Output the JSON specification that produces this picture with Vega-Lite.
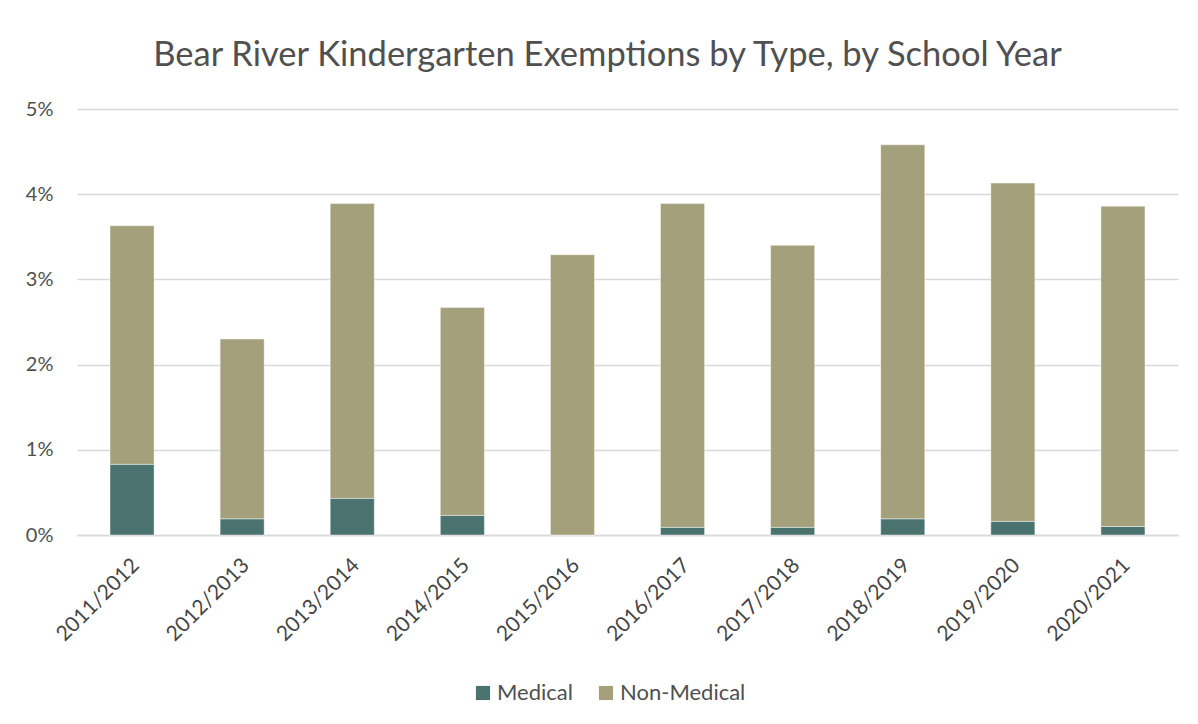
{
  "$schema": "https://vega.github.io/schema/vega-lite/v6.json",
  "autosize": "none",
  "width": 1101,
  "height": 426,
  "padding": {"left": 77, "top": 109, "right": 20, "bottom": 189},
  "background": "white",
  "title": {
    "text": "Bear River Kindergarten Exemptions by Type, by School Year",
    "font": "Lato",
    "fontSize": 34.5,
    "fontWeight": "normal",
    "color": "#505050",
    "anchor": "middle",
    "dx": -20,
    "offset": 26
  },
  "data": {
    "values": [
      {"year": "2011/2012", "type": "Medical", "order": 1, "value": 0.0083},
      {"year": "2011/2012", "type": "Non-Medical", "order": 2, "value": 0.0280},
      {"year": "2012/2013", "type": "Medical", "order": 1, "value": 0.0019},
      {"year": "2012/2013", "type": "Non-Medical", "order": 2, "value": 0.0211},
      {"year": "2013/2014", "type": "Medical", "order": 1, "value": 0.0043},
      {"year": "2013/2014", "type": "Non-Medical", "order": 2, "value": 0.0346},
      {"year": "2014/2015", "type": "Medical", "order": 1, "value": 0.0023},
      {"year": "2014/2015", "type": "Non-Medical", "order": 2, "value": 0.0244},
      {"year": "2015/2016", "type": "Medical", "order": 1, "value": 0.0},
      {"year": "2015/2016", "type": "Non-Medical", "order": 2, "value": 0.0329},
      {"year": "2016/2017", "type": "Medical", "order": 1, "value": 0.0009},
      {"year": "2016/2017", "type": "Non-Medical", "order": 2, "value": 0.0380},
      {"year": "2017/2018", "type": "Medical", "order": 1, "value": 0.0009},
      {"year": "2017/2018", "type": "Non-Medical", "order": 2, "value": 0.0331},
      {"year": "2018/2019", "type": "Medical", "order": 1, "value": 0.0019},
      {"year": "2018/2019", "type": "Non-Medical", "order": 2, "value": 0.0439},
      {"year": "2019/2020", "type": "Medical", "order": 1, "value": 0.0016},
      {"year": "2019/2020", "type": "Non-Medical", "order": 2, "value": 0.0397},
      {"year": "2020/2021", "type": "Medical", "order": 1, "value": 0.0010},
      {"year": "2020/2021", "type": "Non-Medical", "order": 2, "value": 0.0376}
    ]
  },
  "mark": {"type": "bar", "stroke": "#ffffff", "strokeWidth": 0.6, "strokeOpacity": 0.7},
  "encoding": {
    "x": {
      "field": "year",
      "type": "nominal",
      "sort": null,
      "title": null,
      "scale": {"paddingInner": 0.6, "paddingOuter": 0.3},
      "axis": {
        "labelAngle": -45,
        "labelAlign": "right",
        "labelBaseline": "middle",
        "labelFont": "Lato",
        "labelFontSize": 21,
        "labelColor": "#454545",
        "labelPadding": 27,
        "labelOffset": 4,
        "ticks": false,
        "domain": true,
        "domainColor": "#d9d9d9",
        "domainWidth": 1.5,
        "grid": false
      }
    },
    "y": {
      "field": "value",
      "type": "quantitative",
      "stack": "zero",
      "title": null,
      "scale": {"domain": [0, 0.05], "nice": false},
      "axis": {
        "format": ".0%",
        "values": [0, 0.01, 0.02, 0.03, 0.04, 0.05],
        "labelFont": "Lato",
        "labelFontSize": 20,
        "labelColor": "#505050",
        "labelPadding": 24,
        "ticks": false,
        "domain": false,
        "grid": true,
        "gridColor": "#d9d9d9",
        "gridWidth": 1.5
      }
    },
    "color": {
      "field": "type",
      "type": "nominal",
      "scale": {"domain": ["Medical", "Non-Medical"], "range": ["#4a7370", "#a4a07b"]},
      "legend": {
        "title": null,
        "orient": "none",
        "direction": "horizontal",
        "legendX": 395,
        "legendY": 573,
        "symbolType": "square",
        "symbolSize": 200,
        "symbolStrokeWidth": 0,
        "labelFont": "Lato",
        "labelFontSize": 22,
        "labelColor": "#505050",
        "columnPadding": 22,
        "labelOffset": 3
      }
    },
    "order": {"field": "order", "type": "quantitative"}
  },
  "config": {
    "view": {"stroke": null}
  }
}
